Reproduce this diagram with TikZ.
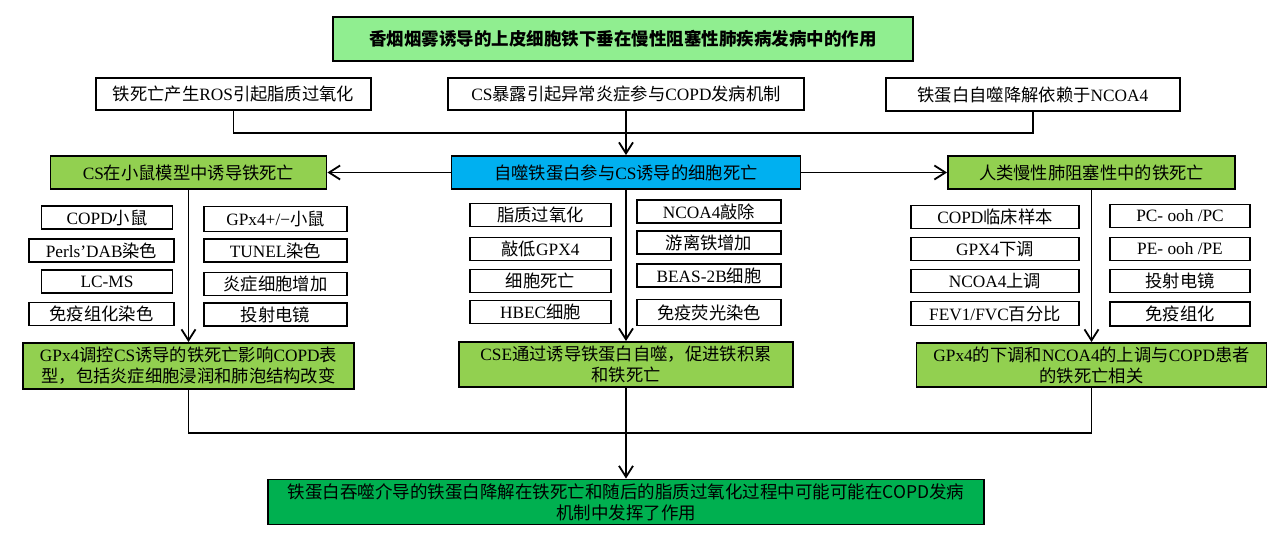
\documentclass[tikz,border=0pt]{standalone}
\usepackage{fontspec}
\setmainfont{Liberation Serif}
\newfontfamily\cjk{Noto Sans CJK SC}
\usepackage{xcolor}
\usepackage{tikz}
\usetikzlibrary{arrows.meta}

% Han characters go to the CJK font, Latin stays in the serif
\XeTeXinterchartokenstate=1
\newXeTeXintercharclass\hancls
\newcount\hanidx
\hanidx="3000
\loop
  \XeTeXcharclass\hanidx=\hancls
  \ifnum\hanidx<"9FFF \advance\hanidx by 1 \repeat
\hanidx="FF00
\loop
  \XeTeXcharclass\hanidx=\hancls
  \ifnum\hanidx<"FFEF \advance\hanidx by 1 \repeat
\XeTeXinterchartoks 0 \hancls = {\begingroup\cjk}
\XeTeXinterchartoks 4095 \hancls = {\begingroup\cjk}
\XeTeXinterchartoks \hancls 0 = {\endgroup}
\XeTeXinterchartoks \hancls 4095 = {\endgroup}

\definecolor{titlegreen}{HTML}{90EE90}
\definecolor{stepgreen}{HTML}{92D050}
\definecolor{autoblue}{HTML}{00B0F0}
\definecolor{finalgreen}{HTML}{00B050}

\begin{document}
\begin{tikzpicture}[
  x=1pt,
  y=-1pt,
  font=\fontsize{17.3}{21}\selectfont,
  box/.style={draw, line width=1.9pt, inner sep=0pt, align=center},
  item/.style={draw, line width=1.8pt, inner sep=0pt, minimum height=23pt},
  link/.style={line width=1.8pt},
  arr/.style={link, -{Straight Barb[length=11pt,width=14pt]}}
]
  \useasboundingbox (0,0) rectangle (1280,536);

  \node[box, fill=titlegreen, minimum width=580pt, minimum height=44pt,
    font=\fontsize{17.5}{21}\selectfont\bfseries] (title) at (623,39)
    {香烟烟雾诱导的上皮细胞铁下垂在慢性阻塞性肺疾病发病中的作用};

  % background findings
  \node[box, minimum width=275pt, minimum height=32pt] (ros) at (233.5,94) {铁死亡产生ROS引起脂质过氧化};
  \node[box, minimum width=356pt, minimum height=32pt] (csexp) at (626,94) {CS暴露引起异常炎症参与COPD发病机制};
  \node[box, minimum width=294pt, minimum height=33pt] (ncoa) at (1033,94.5) {铁蛋白自噬降解依赖于NCOA4};

  % three studies
  \node[box, fill=stepgreen, minimum width=276pt, minimum height=33pt] (mouse) at (188.5,172.5) {CS在小鼠模型中诱导铁死亡};
  \node[box, fill=autoblue, minimum width=349pt, minimum height=33pt] (auto) at (626,172.5) {自噬铁蛋白参与CS诱导的细胞死亡};
  \node[box, fill=stepgreen, minimum width=287pt, minimum height=33pt] (human) at (1091.5,172.5) {人类慢性肺阻塞性中的铁死亡};

  % mouse methods
  \node[item, minimum width=131pt] (mcopd) at (107,217.5) {COPD小鼠};
  \node[item, minimum width=145pt] (mperls) at (101.5,250.5) {Perls’DAB染色};
  \node[item, minimum width=131pt] (mlcms) at (107,281.5) {LC-MS};
  \node[item, minimum width=145pt] (mihc) at (101.5,314) {免疫组化染色};
  \node[item, minimum width=143pt, minimum height=25pt] (mgpx) at (275.5,219) {GPx4+/−小鼠};
  \node[item, minimum width=143pt] (mtunel) at (275.5,250.5) {TUNEL染色};
  \node[item, minimum width=143pt] (minfl) at (275.5,284) {炎症细胞增加};
  \node[item, minimum width=143pt] (mtem) at (275.5,314.5) {投射电镜};

  % cell methods
  \node[item, minimum width=141pt] (clipid) at (540.5,215) {脂质过氧化};
  \node[item, minimum width=141pt] (cgpx) at (540.5,249) {敲低GPX4};
  \node[item, minimum width=141pt] (cdeath) at (540.5,281) {细胞死亡};
  \node[item, minimum width=141pt] (chbec) at (540.5,312) {HBEC细胞};
  \node[item, minimum width=144pt] (cncoa) at (709,211.5) {NCOA4敲除};
  \node[item, minimum width=144pt] (cfree) at (709,242.5) {游离铁增加};
  \node[item, minimum width=144pt] (cbeas) at (709,275.5) {BEAS-2B细胞};
  \node[item, minimum width=144pt, minimum height=26pt] (cif) at (709,312.5) {免疫荧光染色};

  % human methods
  \node[item, minimum width=168pt] (hsample) at (995,217) {COPD临床样本};
  \node[item, minimum width=168pt] (hgpx) at (995,249) {GPX4下调};
  \node[item, minimum width=168pt] (hncoa) at (995,281) {NCOA4上调};
  \node[item, minimum width=168pt, minimum height=24pt] (hfev) at (995,313.5) {FEV1/FVC百分比};
  \node[item, minimum width=140pt] (hpc) at (1180,216) {PC- ooh /PC};
  \node[item, minimum width=140pt] (hpe) at (1180,249) {PE- ooh /PE};
  \node[item, minimum width=140pt] (htem) at (1180,281) {投射电镜};
  \node[item, minimum width=140pt, minimum height=24pt] (hihc) at (1180,314) {免疫组化};

  % results
  \node[box, fill=stepgreen, minimum width=331pt, minimum height=46pt] (mouseres) at (188.5,366)
    {GPx4调控CS诱导的铁死亡影响COPD表\\型，包括炎症细胞浸润和肺泡结构改变};
  \node[box, fill=stepgreen, minimum width=334pt, minimum height=45pt] (autores) at (626,364.5)
    {CSE通过诱导铁蛋白自噬，促进铁积累\\和铁死亡};
  \node[box, fill=stepgreen, minimum width=350pt, minimum height=44pt] (humanres) at (1091.5,365)
    {GPx4的下调和NCOA4的上调与COPD患者\\的铁死亡相关};
  \node[box, fill=finalgreen, minimum width=716pt, minimum height=45pt,
    font=\fontsize{17.5}{21}\cjk] (final) at (626,502)
    {铁蛋白吞噬介导的铁蛋白降解在铁死亡和随后的脂质过氧化过程中可能可能在COPD发病\\机制中发挥了作用};

  % connectors
  \coordinate (topjoin) at (626,133);
  \coordinate (botjoin) at (626,433);
  \draw[link] (ros.south) |- (topjoin) -| (ncoa.south);
  \draw[arr] (csexp.south) -- (auto.north);
  \draw[arr] (auto.west) -- (mouse.east);
  \draw[arr] (auto.east) -- (human.west);
  \draw[arr] (mouse.south) -- (mouseres.north);
  \draw[arr] (auto.south) -- (autores.north);
  \draw[arr] (human.south) -- (humanres.north);
  \draw[link] (mouseres.south) |- (botjoin) -| (humanres.south);
  \draw[arr] (autores.south) -- (final.north);
\end{tikzpicture}
\end{document}
